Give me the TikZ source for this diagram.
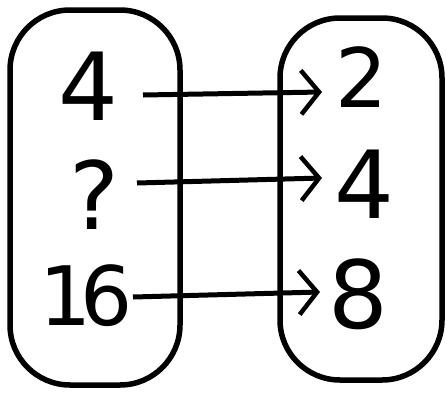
\documentclass[tikz,border=0pt]{standalone}
\usepackage{fontspec}
\setmainfont{DejaVu Sans}
\usetikzlibrary{arrows.meta}
\begin{document}
\begin{tikzpicture}[x=1pt,y=-1pt,
  setbox/.style={draw=black,line width=5.5pt,rounded corners=60pt},
  lbl/.style={font=\fontsize{94}{94}\selectfont,inner sep=0pt},
  smalllbl/.style={font=\fontsize{82}{82}\selectfont,inner sep=0pt},
  maparrow/.style={draw=black,line width=5pt,-{Straight Barb[length=18pt,width=44pt,line width=4.5pt]}}]
\useasboundingbox (0,0) rectangle (447,394);
\fill[white] (0,0) rectangle (447,394);
\draw[setbox] (10,10) rectangle (180,385);
\draw[setbox] (280,18) rectangle (442,380);
\node[lbl] (a1) at (88,86) {4};
\node[lbl] (a2) at (94,195) {?};
\node[smalllbl] (a3) at (86,296) {1\kern-12pt 6};
\node[smalllbl] (b1) at (362,77) {2};
\node[lbl] (b2) at (364,184) {4};
\node[lbl] (b3) at (358,294) {8};
\coordinate (s1) at (143,95);
\coordinate (e1) at (322,92);
\coordinate (s2) at (137,183);
\coordinate (e2) at (322,178);
\coordinate (s3) at (133,297);
\coordinate (e3) at (320,292);
\draw[maparrow] (s1) -- (e1);
\draw[maparrow] (s2) -- (e2);
\draw[maparrow] (s3) -- (e3);
\end{tikzpicture}
\end{document}
